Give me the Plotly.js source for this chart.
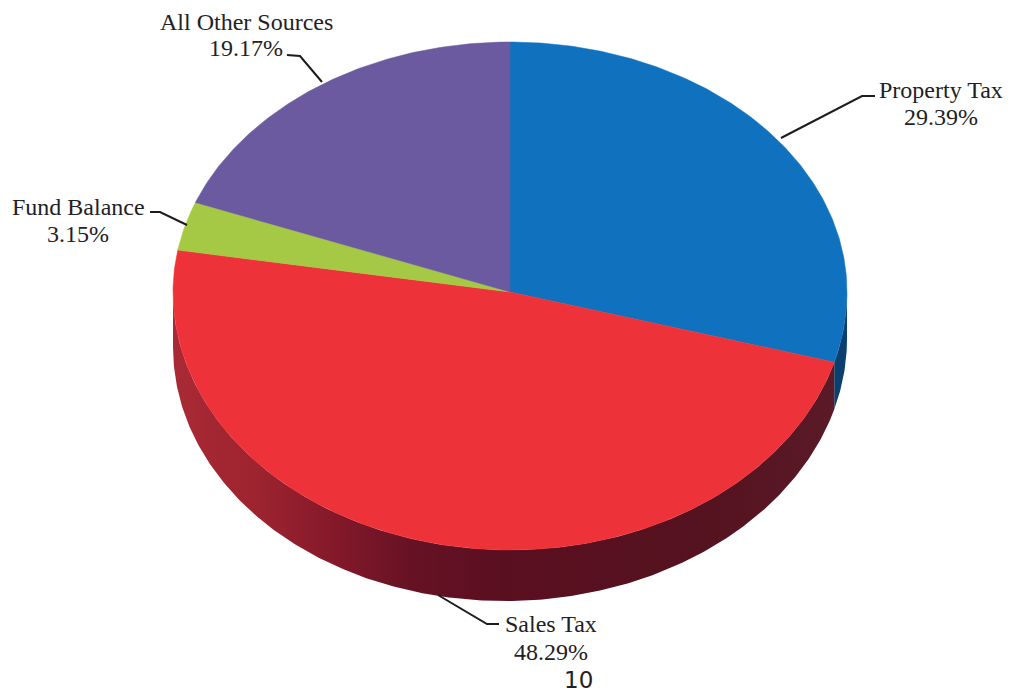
<!DOCTYPE html>
<html>
<head>
<meta charset="utf-8">
<script src="https://cdn.plot.ly/plotly-3.0.1.min.js"></script>
<style>html,body{margin:0;padding:0;background:#fff}#chart{width:1010px;height:692px}</style>
</head>
<body>
<div id="chart"></div>
<script>
// Revenue sources, clockwise from twelve o'clock.
const sources = ['Property Tax', 'Sales Tax', 'Fund Balance', 'All Other Sources'];
const shares = [29.39, 48.29, 3.15, 19.17];
const faceColors = ['#1072bf', '#ee3239', '#a6c945', '#6b5a9f'];
const sideColors = ['#0b3f70', '#7a1a28', '#6d8a2c', '#453a6b'];

// Disc geometry in page units. The near half is slightly larger, for perspective.
const cx = 510, cy = 292, rx = 337, ryFar = 250, ryNear = 258, depth = 51, depthSkew = 0.012;

// Label placement: centre x, name y, percent y.
const labelX = [941, 551, 78, 246];
const nameY = [90, 624, 207, 22];
const pctY = [117, 652, 234, 48];

// Leader lines from each label to its slice.
const leaderX = [[875, 862, 781], [499, 487, 438], [150, 160, 187], [287, 300, 322]];
const leaderY = [[96, 96, 138], [624, 624, 595], [212, 212, 225], [55, 56, 82]];

const pageNumber = '10';

const rimX = t => cx + rx * Math.sin(t);
const rimY = t => {
  const c = Math.cos(t);
  return cy - (c > 0 ? ryFar : ryNear) * c;
};
const lowerY = t => rimY(t) + depth - depthSkew * (rimX(t) - cx);

// Angle bounds of every slice, derived from its share.
const bounds = [0];
shares.forEach(s => bounds.push(bounds[bounds.length - 1] + s / 100 * 2 * Math.PI));

function arc(t0, t1) {
  const n = Math.max(2, Math.ceil(Math.abs(t1 - t0) / 0.01));
  const a = [];
  for (let i = 0; i <= n; i++) a.push(t0 + (t1 - t0) * i / n);
  return a;
}

const traces = [];

// Rim: the front half of the disc, extruded downward.
function sideTrace(i, extra) {
  const t0 = Math.max(bounds[i], Math.PI / 2);
  const t1 = Math.min(bounds[i + 1], 3 * Math.PI / 2);
  if (t1 <= t0) return;
  const a = arc(t0, t1), b = a.slice().reverse();
  traces.push(Object.assign({
    type: 'scatter', mode: 'lines', fill: 'toself',
    x: a.map(rimX).concat(b.map(rimX)),
    y: a.map(rimY).concat(b.map(lowerY)),
    line: {width: 0, color: sideColors[i]},
    fillcolor: sideColors[i],
    hoverinfo: 'skip', showlegend: false
  }, extra || {}));
}
sideTrace(0);
sideTrace(1, {
  fillgradient: {
    type: 'horizontal',
    colorscale: [[0, '#a82a35'], [0.12, '#9e2430'], [0.24, '#85192a'], [0.36, '#661224'],
                 [0.5, '#5a0f20'], [0.8, '#55121f'], [1, '#5a1a28']]
  }
});

// Top face.
shares.forEach((s, i) => {
  const a = arc(bounds[i], bounds[i + 1]);
  traces.push({
    type: 'scatter', mode: 'lines', fill: 'toself',
    name: sources[i],
    x: [cx].concat(a.map(rimX), [cx]),
    y: [cy].concat(a.map(rimY), [cy]),
    line: {width: 0.5, color: faceColors[i]},
    fillcolor: faceColors[i],
    text: sources[i] + ': ' + s.toFixed(2) + '%',
    hoverinfo: 'text', showlegend: false
  });
});

// Leaders.
leaderX.forEach((xs, i) => traces.push({
  type: 'scatter', mode: 'lines', x: xs, y: leaderY[i],
  line: {width: 2, color: '#1c1c1c'}, hoverinfo: 'skip', showlegend: false
}));

const serif = {family: '"Liberation Serif", serif', size: 24, color: '#1e2226'};
const annotations = [];
sources.forEach((name, i) => {
  annotations.push({x: labelX[i], y: nameY[i], text: name, showarrow: false, font: serif, xanchor: 'center', yanchor: 'middle'});
  annotations.push({x: labelX[i], y: pctY[i], text: shares[i].toFixed(2) + '%', showarrow: false, font: serif, xanchor: 'center', yanchor: 'middle'});
});
annotations.push({x: 578, y: 680, text: pageNumber, showarrow: false, xanchor: 'center', yanchor: 'middle',
  font: {family: '"DejaVu Sans", sans-serif', size: 23, color: '#1e2226'}});

Plotly.newPlot('chart', traces, {
  width: 1010, height: 692,
  margin: {l: 0, r: 0, t: 0, b: 0},
  paper_bgcolor: '#ffffff', plot_bgcolor: '#ffffff',
  xaxis: {range: [0, 1010], visible: false, fixedrange: true},
  yaxis: {range: [692, 0], visible: false, fixedrange: true},
  annotations: annotations,
  showlegend: false
}, {displayModeBar: false});
</script>
</body>
</html>
